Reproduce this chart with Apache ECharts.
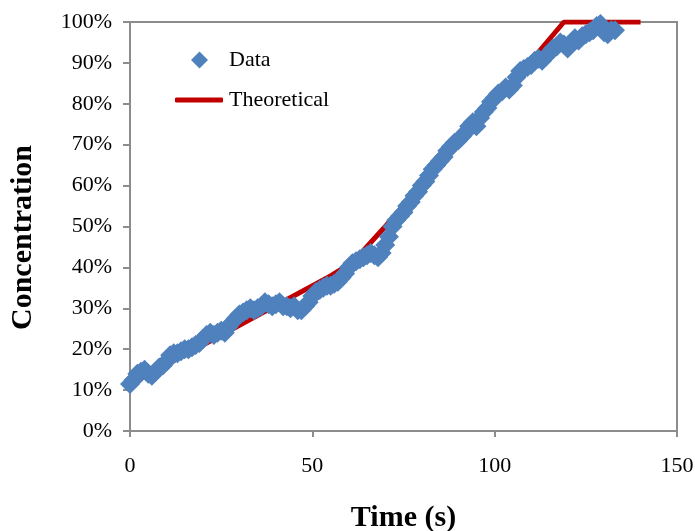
<!DOCTYPE html>
<html>
<head>
<meta charset="utf-8">
<script src="https://cdn.jsdelivr.net/npm/echarts@6/dist/echarts.min.js"></script>
<style>
  html, body { margin: 0; padding: 0; background: #ffffff; }
  #chart { width: 695px; height: 531px; }
</style>
</head>
<body>
<div id="chart"></div>
<script>
// Measured concentration (%) against time (s)
const dataTime = [
  0, 1, 2, 3, 4, 5, 6, 7, 8, 9,
  10, 11, 12, 13, 14, 15, 16, 17, 18, 19,
  20, 21, 22, 23, 24, 25, 26, 27, 28, 29,
  30, 31, 32, 33, 34, 35, 36, 37, 38, 39,
  40, 41, 42, 43, 44, 45, 46, 47, 48, 49,
  50, 51, 52, 53, 54, 55, 56, 57, 58, 59,
  60, 61, 62, 63, 64, 65, 66, 67, 68, 69,
  70, 71, 72, 73, 74, 75, 76, 77, 78, 79,
  80, 81, 82, 83, 84, 85, 86, 87, 88, 89,
  90, 91, 92, 93, 94, 95, 96, 97, 98, 99,
  100, 101, 102, 103, 104, 105, 106, 107, 108, 109,
  110, 111, 112, 113, 114, 115, 116, 117, 118, 119,
  120, 121, 122, 123, 124, 125, 126, 127, 128, 129,
  130, 131, 132, 133
];
const dataConc = [
  11.5, 12.5, 14, 14.5, 15, 14, 13.5, 14.5, 15.5, 16,
  17, 18.5, 19, 19, 19.5, 20, 20, 20.5, 21, 21.5,
  22.5, 23.5, 24, 23.5, 24, 24.5, 24, 25.5, 26.5, 27.5,
  28.5, 29, 29.5, 30, 29.5, 30, 30.5, 31.5, 31, 30.5,
  31, 31.5, 30.5, 30.5, 30, 30.5, 29.5, 29.5, 30.5, 31.5,
  33, 34, 34.5, 35, 35.5, 35.5, 36, 36.5, 37.5, 38.5,
  40, 41, 41.5, 42, 42.5, 43, 43.5, 43, 42.5, 43.5,
  45.5, 47.5, 50, 51.5, 52.5, 53.5, 55, 56, 57.5, 58.5,
  60, 61, 62.5, 64, 65, 66, 67, 68.5, 69.5, 70.5,
  71, 72, 73, 74.5, 75.5, 74.5, 76.5, 78, 79, 80.5,
  81.5, 82.5, 83, 84, 83.5, 84.5, 86.5, 88, 88.5, 89,
  89.5, 90.5, 91, 90.5, 91.5, 92.5, 93.5, 94, 95, 94.5,
  93.5, 95, 96, 95.5, 96.5, 97, 97.5, 98, 99, 99.5,
  97.5, 97, 98, 98
];

// Theoretical curve (piecewise): slow rise, faster rise, then plateau at 100 %
const theoTime = [0, 20, 40, 55, 61, 70, 80, 100, 119, 140];
const theoConc = [11.5, 21, 30.7, 37.9, 41.2, 50, 60, 80, 100, 100];

// Axis ranges and ticks
const xTicks = [0, 50, 100, 150];
const yMax = 100;
const yStep = 10;

const serif = 'Liberation Serif, Times New Roman, serif';
const axisGray = '#8c8c8c';

const chart = echarts.init(document.getElementById('chart'), null, { renderer: 'canvas' });

chart.setOption({
  animation: false,
  backgroundColor: '#ffffff',
  grid: {
    left: 130, right: 18, top: 22, bottom: 100,
    outerBoundsMode: 'none',
    containLabel: false,
    show: true, borderColor: axisGray, borderWidth: 2, backgroundColor: 'transparent'
  },
  legend: [
    {
      data: [{ name: 'Data', icon: 'diamond' }],
      orient: 'vertical',
      left: 186, top: 44,
      itemWidth: 17, itemHeight: 17,
      textStyle: { fontFamily: serif, fontSize: 22, color: '#000', padding: [0, 0, 0, 16] }
    },
    {
      data: [{ name: 'Theoretical', icon: 'roundRect' }],
      orient: 'vertical',
      left: 170, top: 84,
      itemWidth: 48, itemHeight: 5,
      textStyle: { fontFamily: serif, fontSize: 22, color: '#000', padding: [0, 0, 0, 1] }
    }
  ],
  xAxis: {
    type: 'value',
    min: xTicks[0], max: xTicks[xTicks.length - 1], interval: xTicks[1] - xTicks[0],
    name: 'Time (s)', nameLocation: 'middle', nameGap: 72,
    nameTextStyle: { fontFamily: serif, fontSize: 30, fontWeight: 'bold', color: '#000' },
    axisLine: { show: true, lineStyle: { color: axisGray, width: 2 } },
    axisTick: { show: true, inside: false, length: 6, lineStyle: { color: axisGray, width: 2 } },
    axisLabel: { margin: 24, fontFamily: serif, fontSize: 22, color: '#000' },
    splitLine: { show: false }
  },
  yAxis: {
    type: 'value',
    min: 0, max: yMax, interval: yStep,
    name: 'Concentration', nameLocation: 'middle', nameGap: 92, nameRotate: 90,
    nameTextStyle: { fontFamily: serif, fontSize: 30, fontWeight: 'bold', color: '#000', padding: [0, 0, 0, -22] },
    axisLine: { show: true, lineStyle: { color: axisGray, width: 2 } },
    axisTick: { show: true, inside: false, length: 7, lineStyle: { color: axisGray, width: 2 } },
    axisLabel: { margin: 18, fontFamily: serif, fontSize: 22, color: '#000', formatter: '{value}%' },
    splitLine: { show: false }
  },
  series: [
    {
      name: 'Theoretical',
      type: 'line',
      data: theoTime.map((t, i) => [t, theoConc[i]]),
      showSymbol: false,
      symbol: 'none',
      lineStyle: { color: '#C00000', width: 5 },
      itemStyle: { color: '#C00000' },
      z: 2
    },
    {
      name: 'Data',
      type: 'scatter',
      data: dataTime.map((t, i) => [t, dataConc[i]]),
      symbol: 'diamond',
      symbolSize: 20,
      itemStyle: { color: '#4F81BD', opacity: 1 },
      z: 3
    }
  ]
});
</script>
</body>
</html>
